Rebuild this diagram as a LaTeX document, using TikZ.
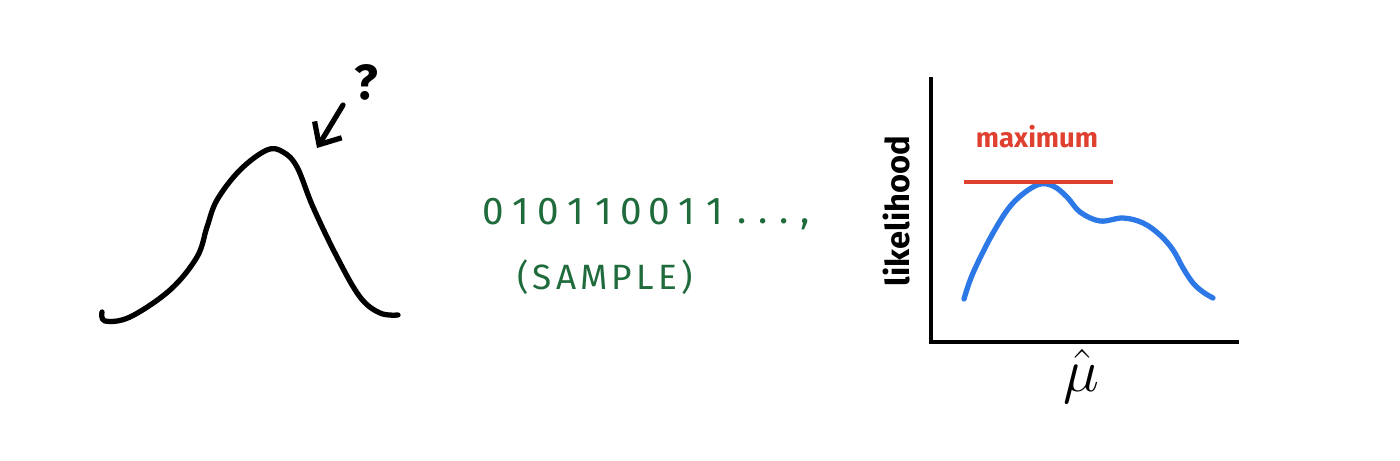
\documentclass[tikz,border=0pt]{standalone}
\usepackage{fontspec}
\setmainfont{Fira Sans}
\usepackage{amsmath}
\usetikzlibrary{arrows.meta}
\definecolor{samplegreen}{HTML}{1F6B3C}
\definecolor{maxred}{HTML}{E0402F}
\definecolor{likeblue}{HTML}{2B78E6}

\begin{document}
\begin{tikzpicture}[x=0.01cm, y=-0.01cm,
        pen/.style={line width=1.5pt, line cap=round, line join=round},
        digit/.style={text=samplegreen, font=\fontsize{11}{13}\selectfont, inner sep=0pt}]
        \useasboundingbox (0,0) rectangle (1400,460);
        % the unknown distribution
        \draw[pen] plot[smooth, tension=0.6] coordinates {(102,312) (105,321) (130,317) (170,290)
            (197,257) (207,227) (217,200) (240,170) (267,150) (283,152) (297,167)
            (313,207) (337,257) (360,297) (380,313) (398,315)};
        \coordinate (peak) at (317,148);
        \coordinate (asktail) at (343,105);
        \node[font=\fontsize{14}{16}\selectfont\bfseries, inner sep=0pt] (ask) at (366,82) {?};
        \draw[pen, -{Straight Barb[length=5pt, width=9pt]}] (asktail) -- (peak);
        % the data
        \foreach \d [count=\i] in {0,1,0,1,1,0,0,1,1} {
            \node[digit] (bit\i) at ({493+(\i-1)*27.7}, 212) {\d};}
        \node[digit, anchor=base west] (more) at (737,223) {\addfontfeatures{LetterSpace=30}...,};
        \node[digit, font=\fontsize{10}{12}\selectfont\addfontfeatures{LetterSpace=12}] (sample) at (605,277) {(SAMPLE)};
        % the likelihood plot
        \coordinate (origin) at (931,342);
        \coordinate (ytop) at (931,77);
        \coordinate (xend) at (1239,342);
        \draw[line width=1.2pt] (ytop) -- (origin) -- (xend);
        \node[rotate=90, font=\fontsize{9.3}{11}\selectfont\bfseries, inner sep=0pt] (ylabel) at (897,211) {likelihood};
        \node[font=\fontsize{16}{18}\selectfont, inner sep=0pt] (mlabel) at (1081,376) {$\hat{\mu}$};
        \draw[likeblue, line width=1.5pt, line cap=round] plot[smooth, tension=0.6] coordinates {(964,299) (973,273)
            (993,233) (1013,203) (1037,185) (1053,186) (1067,197) (1080,212) (1100,221)
            (1123,218) (1143,223) (1160,235) (1173,250) (1183,268) (1193,283) (1203,292) (1213,298)};
        \coordinate (maxleft) at (964,182);
        \coordinate (maxright) at (1113,182);
        \draw[maxred, line width=1pt] (maxleft) -- (maxright);
        \node[text=maxred, font=\fontsize{7.8}{9}\selectfont\bfseries, inner sep=0pt] (maxlabel) at (1037,137) {maximum};
\end{tikzpicture}
\end{document}
